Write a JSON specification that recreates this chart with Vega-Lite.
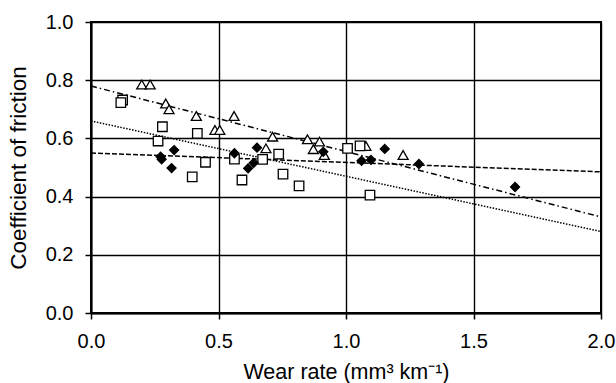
{
  "$schema": "https://vega.github.io/schema/vega-lite/v6.json",
  "width": 510,
  "height": 291,
  "autosize": {"type": "none"},
  "padding": {"left": 91, "top": 22, "right": 15, "bottom": 70},
  "background": "white",
  "config": {
    "view": {"stroke": "black", "strokeWidth": 2},
    "font": "Liberation Sans",
    "axis": {
      "domainColor": "black", "domainWidth": 2,
      "tickColor": "black", "tickWidth": 1.5, "tickSize": 6,
      "gridColor": "black", "gridWidth": 1.4, "gridOpacity": 1,
      "labelFont": "Liberation Sans", "labelFontSize": 20, "labelColor": "black",
      "titleFont": "Liberation Sans", "titleFontSize": 21.5, "titleFontWeight": "normal", "titleColor": "black"
    }
  },
  "datasets": {
    "points": [
      {"wear": 0.199, "cof": 0.785, "series": "T"},
      {"wear": 0.232, "cof": 0.785, "series": "T"},
      {"wear": 0.293, "cof": 0.72, "series": "T"},
      {"wear": 0.306, "cof": 0.70, "series": "T"},
      {"wear": 0.413, "cof": 0.677, "series": "T"},
      {"wear": 0.486, "cof": 0.629, "series": "T"},
      {"wear": 0.505, "cof": 0.629, "series": "T"},
      {"wear": 0.561, "cof": 0.677, "series": "T"},
      {"wear": 0.686, "cof": 0.566, "series": "T"},
      {"wear": 0.712, "cof": 0.606, "series": "T"},
      {"wear": 0.849, "cof": 0.597, "series": "T"},
      {"wear": 0.872, "cof": 0.563, "series": "T"},
      {"wear": 0.896, "cof": 0.589, "series": "T"},
      {"wear": 0.915, "cof": 0.543, "series": "T"},
      {"wear": 1.078, "cof": 0.574, "series": "T"},
      {"wear": 1.224, "cof": 0.543, "series": "T"},
      {"wear": 0.124, "cof": 0.732, "series": "S"},
      {"wear": 0.117, "cof": 0.723, "series": "S"},
      {"wear": 0.28, "cof": 0.64, "series": "S"},
      {"wear": 0.263, "cof": 0.591, "series": "S"},
      {"wear": 0.417, "cof": 0.617, "series": "S"},
      {"wear": 0.449, "cof": 0.518, "series": "S"},
      {"wear": 0.397, "cof": 0.468, "series": "S"},
      {"wear": 0.5625, "cof": 0.529, "series": "S"},
      {"wear": 0.592, "cof": 0.457, "series": "S"},
      {"wear": 0.673, "cof": 0.528, "series": "S"},
      {"wear": 0.736, "cof": 0.546, "series": "S"},
      {"wear": 0.753, "cof": 0.477, "series": "S"},
      {"wear": 0.816, "cof": 0.437, "series": "S"},
      {"wear": 1.006, "cof": 0.566, "series": "S"},
      {"wear": 1.055, "cof": 0.574, "series": "S"},
      {"wear": 1.094, "cof": 0.405, "series": "S"},
      {"wear": 0.273, "cof": 0.537, "series": "D"},
      {"wear": 0.277, "cof": 0.528, "series": "D"},
      {"wear": 0.326, "cof": 0.56, "series": "D"},
      {"wear": 0.316, "cof": 0.498, "series": "D"},
      {"wear": 0.5625, "cof": 0.549, "series": "D"},
      {"wear": 0.651, "cof": 0.568, "series": "D"},
      {"wear": 0.616, "cof": 0.497, "series": "D"},
      {"wear": 0.638, "cof": 0.516, "series": "D"},
      {"wear": 0.911, "cof": 0.554, "series": "D"},
      {"wear": 1.061, "cof": 0.523, "series": "D"},
      {"wear": 1.098, "cof": 0.526, "series": "D"},
      {"wear": 1.152, "cof": 0.564, "series": "D"},
      {"wear": 1.286, "cof": 0.512, "series": "D"},
      {"wear": 1.663, "cof": 0.433, "series": "D"}
    ],
    "fits": [
      {"wear": 0, "cof": 0.78, "series": "T"},
      {"wear": 2, "cof": 0.33, "series": "T"},
      {"wear": 0, "cof": 0.66, "series": "S"},
      {"wear": 2, "cof": 0.28, "series": "S"},
      {"wear": 0, "cof": 0.55, "series": "D"},
      {"wear": 2, "cof": 0.485, "series": "D"}
    ]
  },
  "encoding": {
    "x": {
      "field": "wear", "type": "quantitative",
      "scale": {"domain": [0, 2], "nice": false, "zero": false},
      "axis": {"values": [0, 0.5, 1, 1.5, 2], "format": ".1f", "title": "Wear rate (mm³ km⁻¹)", "labelPadding": 12, "titlePadding": 10, "labelFlush": false}
    },
    "y": {
      "field": "cof", "type": "quantitative",
      "scale": {"domain": [0, 1], "nice": false, "zero": false},
      "axis": {"values": [0, 0.2, 0.4, 0.6, 0.8, 1.0], "format": ".1f", "title": "Coefficient of friction", "titleFontSize": 22.5, "labelPadding": 12, "titlePadding": 15, "labelFlush": false}
    }
  },
  "layer": [
    {
      "data": {"name": "fits"},
      "mark": {"type": "line", "color": "black", "strokeWidth": 1.5},
      "encoding": {
        "detail": {"field": "series"},
        "strokeDash": {
          "field": "series", "type": "nominal",
          "scale": {"domain": ["T", "S", "D"], "range": [[6, 3, 1.5, 3], [1.5, 1.5], [5, 2]]},
          "legend": null
        }
      }
    },
    {
      "data": {"name": "points"},
      "mark": {"type": "point", "filled": true, "strokeWidth": 1.3, "opacity": 1},
      "encoding": {
        "shape": {
          "field": "series", "type": "nominal",
          "scale": {"domain": ["T", "S", "D"], "range": ["triangle-up", "square", "diamond"]},
          "legend": null
        },
        "fill": {
          "field": "series", "type": "nominal",
          "scale": {"domain": ["T", "S", "D"], "range": ["white", "white", "black"]},
          "legend": null
        },
        "stroke": {"value": "black"},
        "size": {
          "field": "series", "type": "nominal",
          "scale": {"domain": ["T", "S", "D"], "range": [100, 80, 70]},
          "legend": null
        }
      }
    }
  ]
}
